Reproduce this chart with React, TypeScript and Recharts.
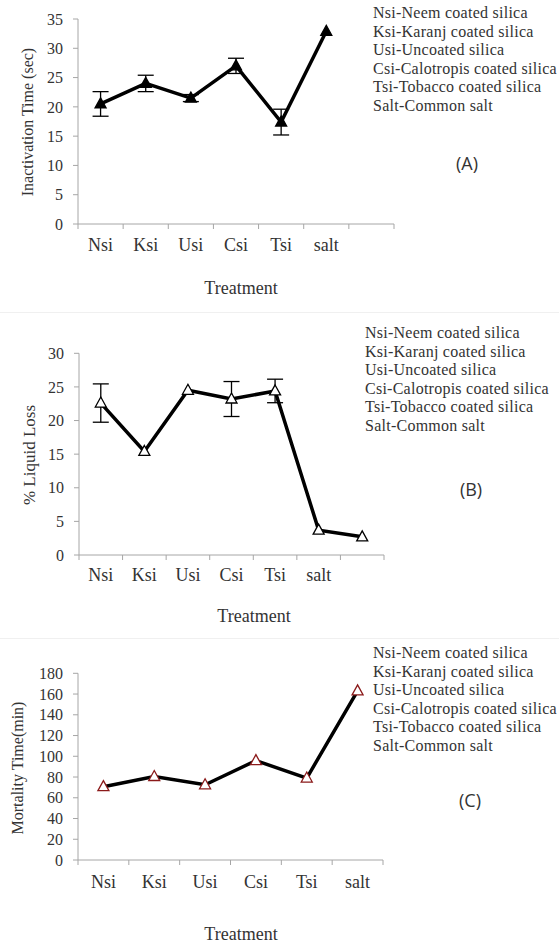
import React from 'react';
import { LineChart, Line, XAxis, YAxis, ErrorBar } from 'recharts';

// Panel A - inactivation time
const treatmentsA = ['Nsi', 'Ksi', 'Usi', 'Csi', 'Tsi', 'salt', ''];
const inactivationTime = [20.5, 24, 21.5, 27, 17.4, 32.9, null];
const inactivationErr = [2.1, 1.4, 0.6, 1.3, 2.2, null, null];
const inactivationTicks = [0, 5, 10, 15, 20, 25, 30, 35];

// Panel B - liquid loss
const treatmentsB = ['Nsi', 'Ksi', 'Usi', 'Csi', 'Tsi', 'salt', ''];
const liquidLoss = [22.6, 15.4, 24.5, 23.2, 24.4, 3.7, 2.7];
const liquidLossErr = [2.85, null, null, 2.6, 1.75, null, null];
const liquidLossTicks = [0, 5, 10, 15, 20, 25, 30];

// Panel C - mortality time
const treatmentsC = ['Nsi', 'Ksi', 'Usi', 'Csi', 'Tsi', 'salt'];
const mortalityTime = [70.7, 80.5, 72.5, 95.8, 79, 163];
const mortalityTicks = [0, 20, 40, 60, 80, 100, 120, 140, 160, 180];

const legendLines = [
  'Nsi-Neem coated silica',
  'Ksi-Karanj coated silica',
  'Usi-Uncoated silica',
  'Csi-Calotropis coated silica',
  'Tsi-Tobacco coated silica',
  'Salt-Common salt',
];

const SERIF = '"Liberation Serif", "Times New Roman", serif';
const AXIS_GRAY = '#a6a6a6';
const TEXT = '#333';

const toRows = (values: (number | null)[], errs?: (number | null)[]) =>
  values.map((v, i) => ({ x: i + 0.5, y: v, err: errs ? errs[i] : null }));

const triangle = (fill: string, stroke: string) => (props: any) => {
  const { cx, cy, index } = props;
  if (cx == null || cy == null || props.value == null) return <g key={index} />;
  const d = `M${cx},${cy - 6} L${cx + 5.5},${cy + 4} L${cx - 5.5},${cy + 4} Z`;
  return <path key={index} d={d} fill={fill} stroke={stroke} strokeWidth={1.3} />;
};

const catTick = (cats: string[], step: number, dy: number) => (props: any) => {
  const { x, y, payload } = props;
  const label = cats[payload.value];
  if (!label) return <g />;
  return (
    <text x={x + step / 2} y={y} dy={dy} textAnchor="middle" fontFamily={SERIF} fontSize={18} fill={TEXT}>
      {label}
    </text>
  );
};

interface PanelProps {
  top: number;
  margin: { top: number; right: number; left: number; bottom: number };
  cats: string[];
  values: (number | null)[];
  errs?: (number | null)[];
  yTicks: number[];
  markerFill: string;
  markerStroke: string;
  tickDy: number;
}

const W = 400;
const H = 300;
const Y_W = 78;

const Panel = ({ top, margin, cats, values, errs, yTicks, markerFill, markerStroke, tickDy }: PanelProps) => {
  const n = cats.length;
  const step = (W - margin.left - margin.right - Y_W) / n;
  const xTicks = Array.from({ length: n + 1 }, (_, i) => i);
  return (
    <div style={{ position: 'absolute', left: 0, top }}>
      <LineChart width={W} height={H} data={toRows(values, errs)} margin={margin}>
        <XAxis
          dataKey="x"
          type="number"
          domain={[0, n]}
          ticks={xTicks}
          interval={0}
          height={30}
          stroke={AXIS_GRAY}
          tickSize={5}
          tickMargin={2}
          tick={catTick(cats, step, tickDy)}
        />
        <YAxis
          type="number"
          domain={[0, yTicks[yTicks.length - 1]]}
          ticks={yTicks}
          interval={0}
          width={Y_W}
          stroke={AXIS_GRAY}
          tickSize={5}
          tickMargin={10}
          tick={{ fontFamily: SERIF, fontSize: 16, fill: TEXT }}
          allowDataOverflow
        />
        <Line
          dataKey="y"
          stroke="#000"
          strokeWidth={3.5}
          isAnimationActive={false}
          dot={triangle(markerFill, markerStroke)}
          activeDot={false}
        >
          {errs && <ErrorBar dataKey="err" width={8} stroke="#000" strokeWidth={1.3} direction="y" />}
        </Line>
      </LineChart>
    </div>
  );
};

const Text = ({ x, y, children, size, rotate, family }: any) => (
  <div
    style={{
      position: 'absolute',
      left: x,
      top: y,
      transform: `translate(-50%, -50%)${rotate ? ' rotate(-90deg)' : ''}`,
      whiteSpace: 'nowrap',
      fontFamily: family || SERIF,
      fontSize: size,
      color: TEXT,
    }}
  >
    {children}
  </div>
);

const Legend = ({ x, y }: { x: number; y: number }) => (
  <div
    style={{
      position: 'absolute',
      left: x,
      top: y,
      fontFamily: SERIF,
      fontSize: 16,
      letterSpacing: 0.25,
      lineHeight: '18.5px',
      color: TEXT,
      whiteSpace: 'nowrap',
    }}
  >
    {legendLines.map((l) => (
      <div key={l}>{l}</div>
    ))}
  </div>
);

const App = () => (
  <div style={{ position: 'absolute', left: 0, top: 0, width: 559, height: 942, background: '#fff', overflow: 'hidden' }}>
    <Panel
      top={0}
      margin={{ top: 19, right: 6, left: 0, bottom: 46 }}
      cats={treatmentsA}
      values={inactivationTime}
      errs={inactivationErr}
      yTicks={inactivationTicks}
      markerFill="#000"
      markerStroke="#000"
      tickDy={20}
    />
    <Text x={28} y={122} size={16} rotate>Inactivation Time (sec)</Text>
    <Text x={241} y={288} size={18}>Treatment</Text>
    <Legend x={373} y={4} />
    <Text x={467} y={163} size={18} family='"Open Sans", sans-serif'>(A)</Text>

    <div style={{ position: 'absolute', left: 0, top: 312, width: 559, height: 1, background: '#f0f0f0' }} />

    <Panel
      top={330}
      margin={{ top: 23.3, right: 16, left: 1, bottom: 45 }}
      cats={treatmentsB}
      values={liquidLoss}
      errs={liquidLossErr}
      yTicks={liquidLossTicks}
      markerFill="#fff"
      markerStroke="#000"
      tickDy={19}
    />
    <Text x={30} y={455} size={17} rotate>% Liquid Loss</Text>
    <Text x={254} y={616} size={18}>Treatment</Text>
    <Legend x={365} y={324} />
    <Text x={471} y={489} size={18} family='"Open Sans", sans-serif'>(B)</Text>

    <div style={{ position: 'absolute', left: 0, top: 638, width: 559, height: 1, background: '#f0f0f0' }} />

    <Panel
      top={650}
      margin={{ top: 23.3, right: 17, left: 0, bottom: 60 }}
      cats={treatmentsC}
      values={mortalityTime}
      yTicks={mortalityTicks}
      markerFill="#fff"
      markerStroke="#8b1a1a"
      tickDy={21}
    />
    <Text x={18} y={768} size={16} rotate>Mortality Time(min)</Text>
    <Text x={241} y={934} size={18}>Treatment</Text>
    <Legend x={373} y={644} />
    <Text x={470} y={800} size={18} family='"Open Sans", sans-serif'>(C)</Text>
  </div>
);

export default App;
